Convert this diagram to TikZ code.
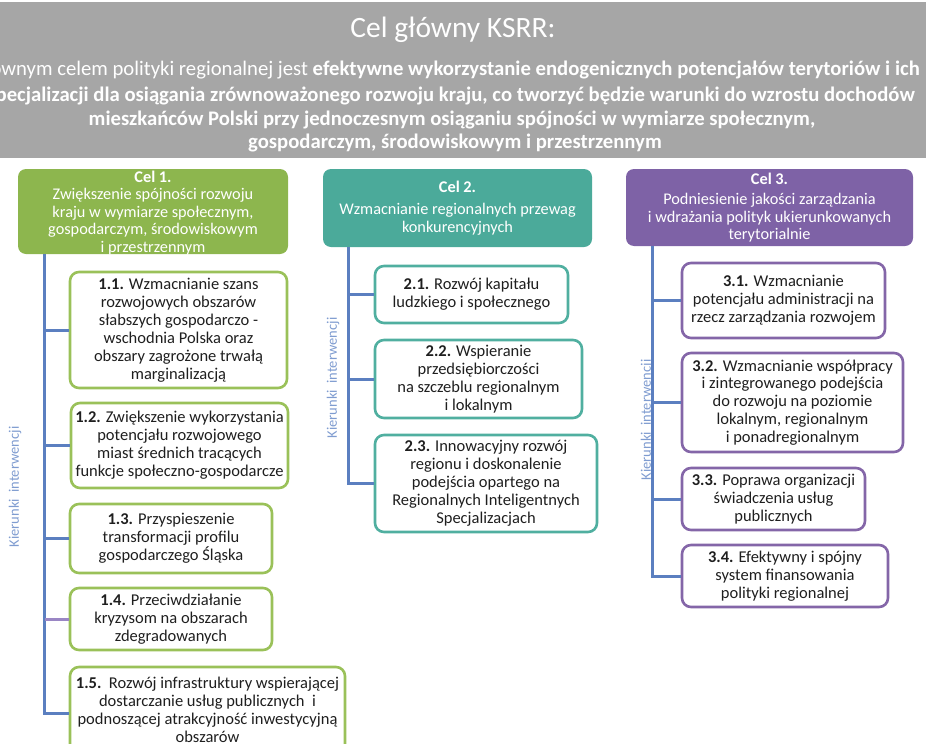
\documentclass[tikz,border=0pt]{standalone}
\usepackage{fontspec}
\setmainfont{Carlito}
\definecolor{bannergray}{HTML}{A6A6A6}
\definecolor{grfill}{HTML}{8DB64E}
\definecolor{grline}{HTML}{9AC159}
\definecolor{tefill}{HTML}{4BAA9A}
\definecolor{teline}{HTML}{50AFA0}
\definecolor{pufill}{HTML}{7E62A6}
\definecolor{puline}{HTML}{8466A8}
\definecolor{lineblue}{HTML}{5B7FC0}
\definecolor{linepurple}{HTML}{9A86C4}
\definecolor{kierc}{HTML}{7F9CD0}
\definecolor{textc}{HTML}{1F1F1F}
\newcommand\myfs[2]{\fontsize{#1}{#2}\selectfont}
\begin{document}
\begin{tikzpicture}[x=1pt,y=-1pt,
  conn/.style={line width=3pt, draw=lineblue},
  head/.style={rounded corners=8pt, text=white, align=center, inner sep=0pt, font=\myfs{16.3}{17.5}},
  sub/.style={draw, line width=2.6pt, fill=white, rounded corners=9pt, align=center, text=textc, inner sep=0pt, font=\myfs{16.5}{17.9}},
  kier/.style={rotate=90, text=kierc, font=\myfs{14.5}{17}},
  ban/.style={text=white, inner sep=0pt, font=\myfs{20.7}{24}}]
\useasboundingbox (0,0) rectangle (926,744);
\begin{scope}
\clip (0,0) rectangle (926,744);
% banner
\fill[bannergray] (0,2) rectangle (926,158);
\node[ban, font=\myfs{29.5}{32}] (title) at (453,30) {Cel główny KSRR:};
\node[ban, anchor=east] (bl1) at (920,70) {Głównym celem polityki regionalnej jest \textbf{efektywne wykorzystanie endogenicznych potencjałów terytoriów i ich}};
\node[ban, anchor=east] (bl2) at (915,96) {\textbf{specjalizacji dla osiągania zrównoważonego rozwoju kraju, co tworzyć będzie warunki do wzrostu dochodów}};
\node[ban] (bl3) at (452,120) {\textbf{mieszkańców Polski przy jednoczesnym  osiąganiu spójności w wymiarze społecznym,}};
\node[ban] (bl4) at (455,143) {\textbf{gospodarczym, środowiskowym i przestrzennym}};

% headers
\node[head, fill=grfill, minimum width=270pt, minimum height=85pt] (h1) at (153,211.5) {};
\node[head] at (153,213) {\textbf{Cel 1.}\\Zwiększenie spójności rozwoju\\kraju w wymiarze społecznym,\\gospodarczym, środowiskowym\\i przestrzennym};
\node[head, fill=tefill, minimum width=269pt, minimum height=78pt] (h2) at (457.5,208) {\textbf{Cel 2.}\\[5pt]Wzmacnianie regionalnych przewag\\konkurencyjnych};
\node[head, fill=pufill, minimum width=287pt, minimum height=77pt] (h3) at (769.5,207.5) {\textbf{Cel 3.}\\[3pt]Podniesienie jakości zarządzania\\i wdrażania polityk ukierunkowanych\\terytorialnie};

% column 1 boxes
\node[sub, draw=grline, minimum width=217pt, minimum height=116pt] (b11) at (178.5,330) {\textbf{1.1.} Wzmacnianie szans\\rozwojowych obszarów\\słabszych gospodarczo -\\wschodnia Polska oraz\\obszary zagrożone trwałą\\marginalizacją};
\node[sub, draw=grline, minimum width=217pt, minimum height=85pt] (b12) at (179.5,445.5) {\textbf{1.2.} Zwiększenie wykorzystania\\potencjału rozwojowego\\miast średnich tracących\\funkcje społeczno-gospodarcze};
\node[sub, draw=grline, minimum width=202pt, minimum height=69pt] (b13) at (171,538.5) {\textbf{1.3.} Przyspieszenie\\transformacji profilu\\gospodarczego Śląska};
\node[sub, draw=grline, minimum width=202pt, minimum height=62pt] (b14) at (171,619) {\textbf{1.4.} Przeciwdziałanie\\kryzysom na obszarach\\zdegradowanych};
\node[sub, draw=grline, minimum width=275pt, minimum height=86pt] (b15) at (207.5,710) {\textbf{1.5.}\ \ Rozwój infrastruktury wspierającej\\dostarczanie usług publicznych\ \ i\\podnoszącej atrakcyjność inwestycyjną\\obszarów};

% column 2 boxes
\node[sub, draw=teline, minimum width=193pt, minimum height=57pt] (b21) at (471.5,294.5) {\textbf{2.1.} Rozwój kapitału\\ludzkiego i społecznego};
\node[sub, draw=teline, minimum width=207pt, minimum height=78pt] (b22) at (478.5,379) {\textbf{2.2.} Wspieranie\\przedsiębiorczości\\na szczeblu regionalnym\\i lokalnym};
\node[sub, draw=teline, minimum width=222pt, minimum height=97pt] (b23) at (486,483.5) {\textbf{2.3.} Innowacyjny rozwój\\regionu i doskonalenie\\podejścia opartego na\\Regionalnych Inteligentnych\\Specjalizacjach};

% column 3 boxes
\node[sub, draw=puline, minimum width=203pt, minimum height=75pt] (b31) at (783.5,300.5) {\textbf{3.1.} Wzmacnianie\\potencjału administracji na\\rzecz zarządzania rozwojem};
\node[sub, draw=puline, minimum width=221pt, minimum height=99pt] (b32) at (792.5,402.5) {\textbf{3.2.} Wzmacnianie współpracy\\i zintegrowanego podejścia\\do rozwoju na poziomie\\lokalnym, regionalnym\\i ponadregionalnym};
\node[sub, draw=puline, minimum width=183pt, minimum height=62pt] (b33) at (773.5,499) {\textbf{3.3.} Poprawa organizacji\\świadczenia usług\\publicznych};
\node[sub, draw=puline, minimum width=206pt, minimum height=62pt] (b34) at (785,576) {\textbf{3.4.} Efektywny i spójny\\system finansowania\\polityki regionalnej};

% spines
\coordinate (s1) at ([xshift=27pt]h1.south west);
\coordinate (s2) at ([xshift=26pt]h2.south west);
\coordinate (s3) at ([xshift=27pt]h3.south west);

\node[kier] (k1) at (15,487) {Kierunki\ \ interwencji};
\node[kier] (k2) at (333,378) {Kierunki\ \ interwencji};
\node[kier] (k3) at (647,420) {Kierunki\ \ interwencji};

\draw[conn] (s1) |- ([yshift=-3pt]b15.west);
\draw[conn] (b11.west -| s1) -- (b11.west);
\draw[conn] (b12.west -| s1) -- (b12.west);
\draw[conn] (b13.west -| s1) -- (b13.west);
\draw[conn, draw=linepurple] (b14.west -| s1) -- (b14.west);

\draw[conn] (s2) |- (b23.west);
\draw[conn] (b21.west -| s2) -- (b21.west);
\draw[conn] (b22.west -| s2) -- (b22.west);

\draw[conn] (s3) |- (b34.west);
\draw[conn] (b31.west -| s3) -- (b31.west);
\draw[conn] (b32.west -| s3) -- (b32.west);
\draw[conn] (b33.west -| s3) -- (b33.west);
\end{scope}
\end{tikzpicture}
\end{document}
